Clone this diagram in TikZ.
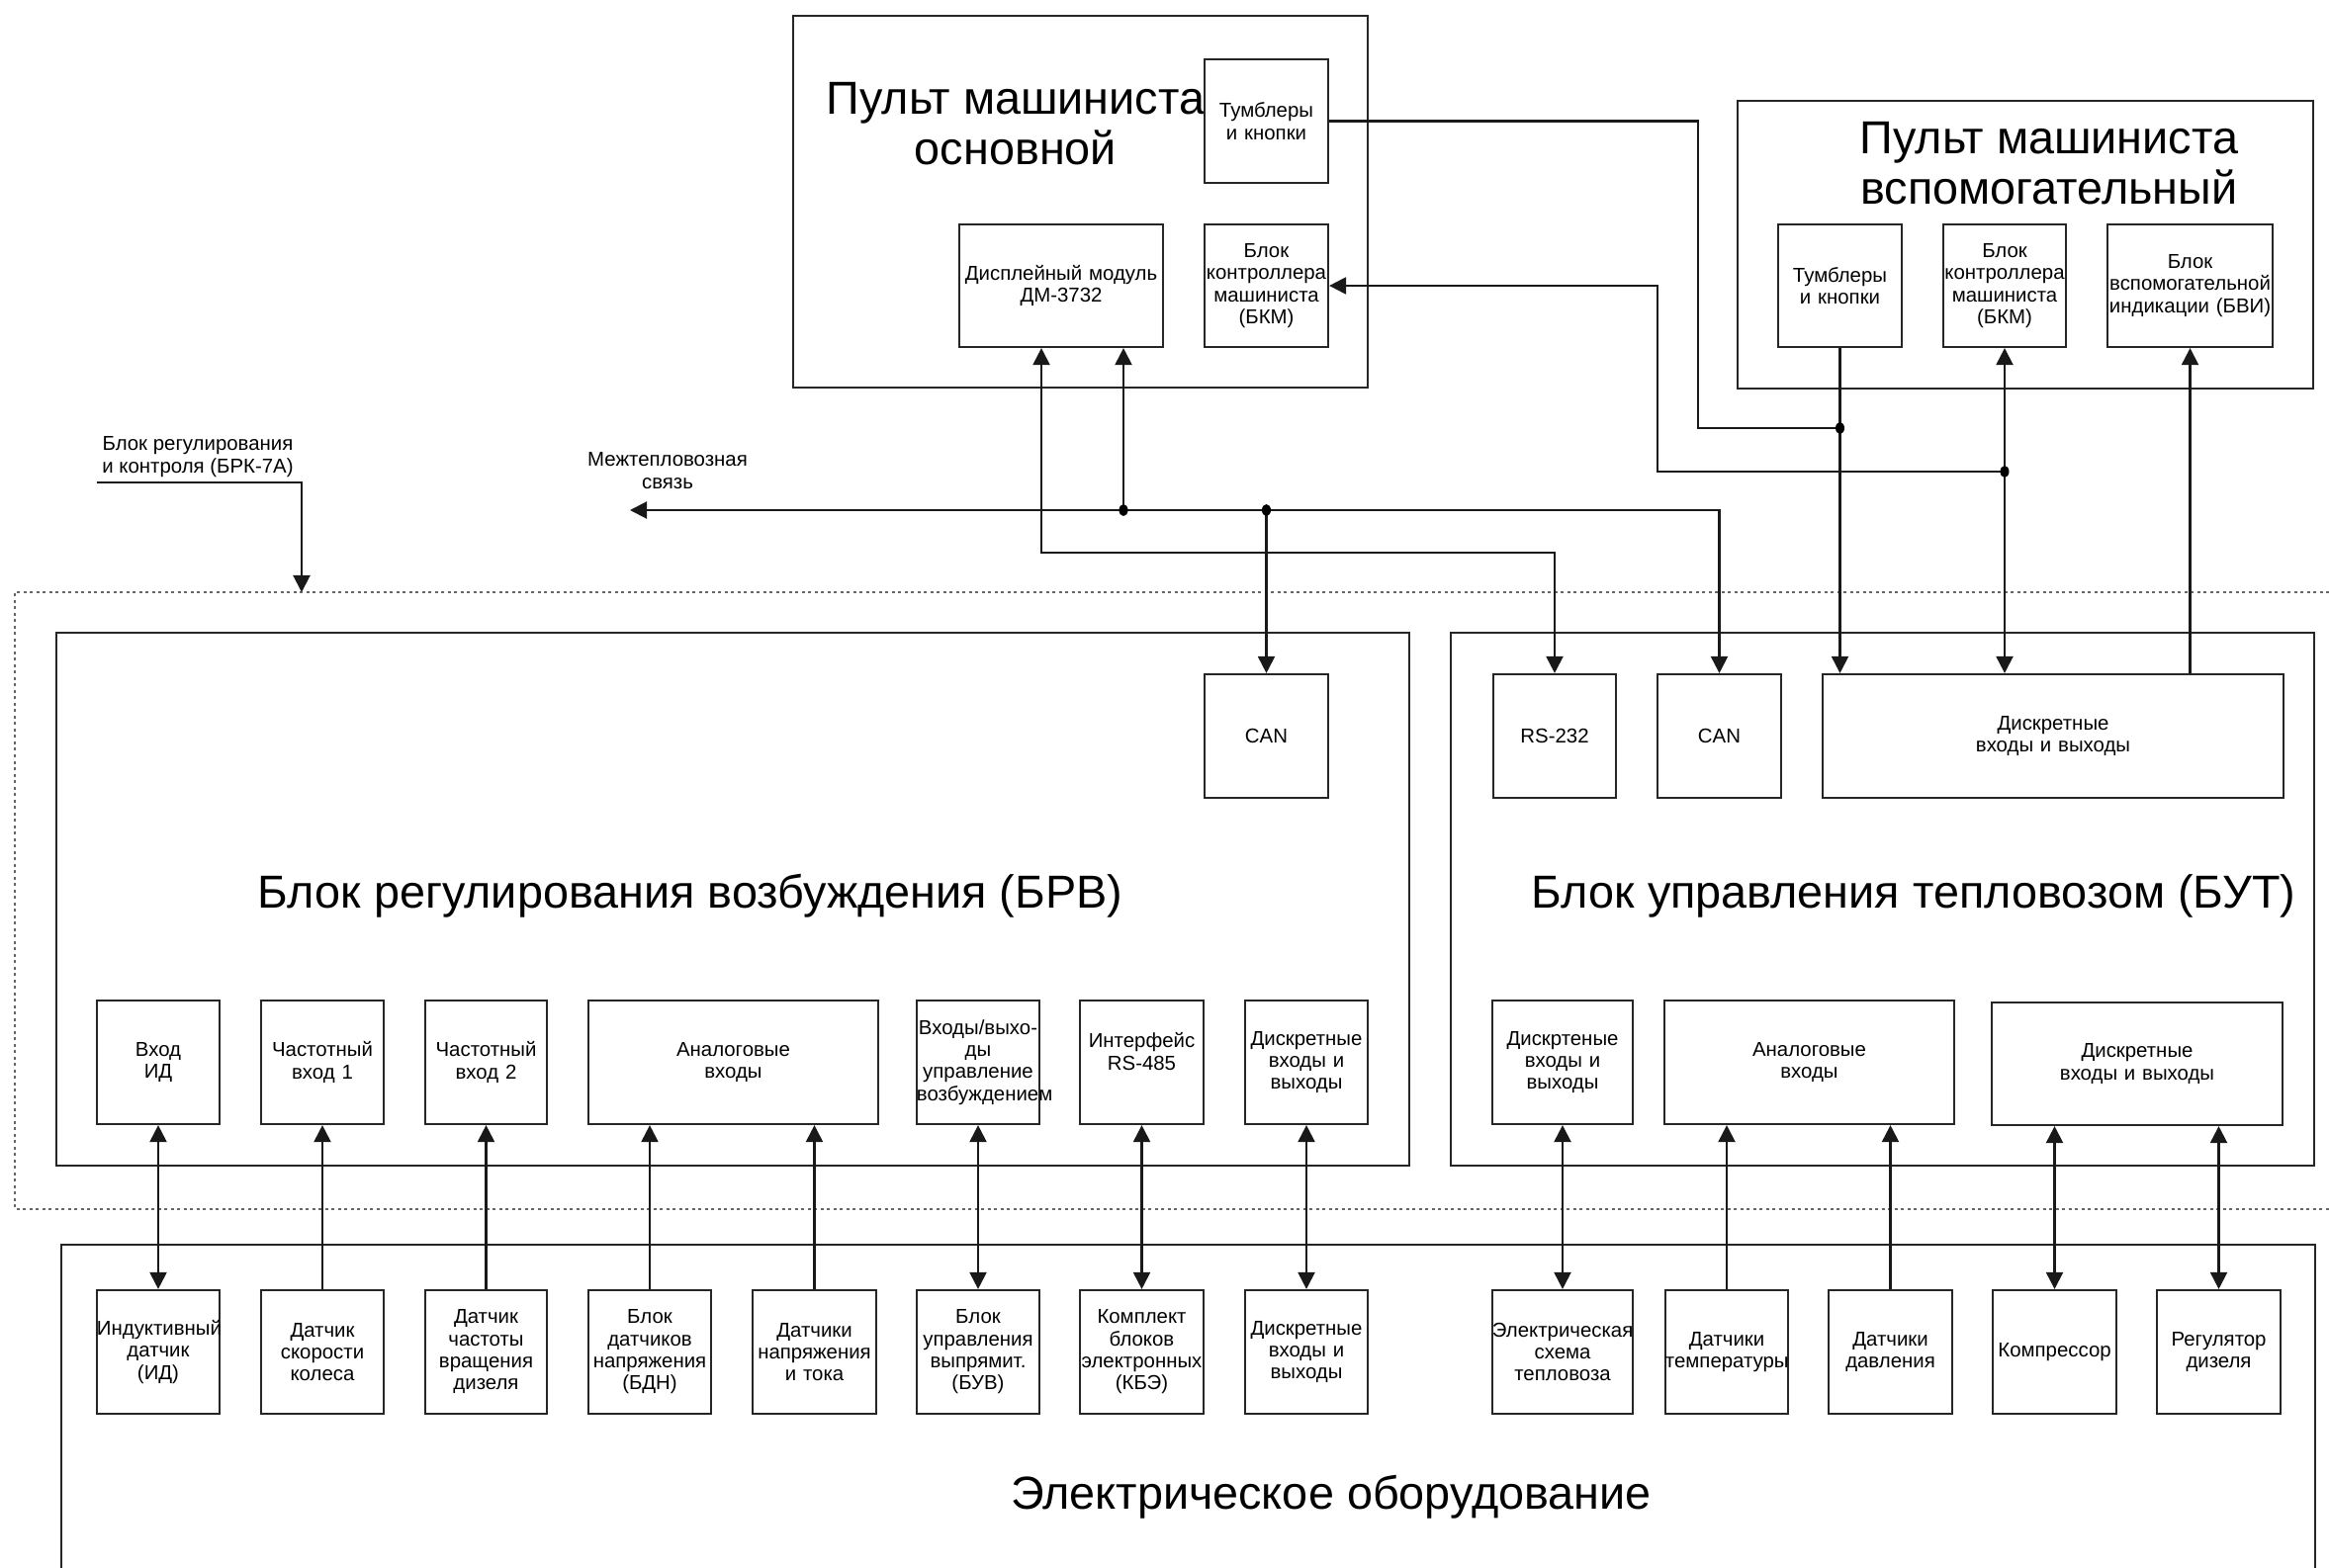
\documentclass[tikz,border=0pt]{standalone}
\usepackage{fontspec}
\setmainfont{Liberation Sans}
\usetikzlibrary{arrows.meta}
\newcommand\fsmall{\fontsize{5.8pt}{6.35pt}\selectfont}
\newcommand\fbig{\fontsize{13.3pt}{14.5pt}\selectfont}
\begin{document}
\begin{tikzpicture}[x=0.01cm,y=-0.01cm,
  line width=0.6pt,
  >={Triangle[length=0.17cm,width=0.17cm]},
  frame/.style={draw=black!85,inner sep=0pt},
  sbox/.style 2 args={draw=black!85,inner sep=0pt,align=center,font=\fsmall,text width=#1,minimum width=#1,minimum height=#2},
  ttl/.style={align=center,font=\fbig,inner sep=0pt},
  lbl/.style={align=center,font=\fsmall,inner sep=0pt},
  conn/.style={draw=black!90},
  dotframe/.style={draw=black!60,line width=0.45pt,dash pattern=on 0.03cm off 0.035cm}
]
\useasboundingbox (0,0) rectangle (2355,1586);

% ---------- main console ----------
\node[frame,minimum width=5.81cm,minimum height=3.76cm] (pm) at (1092.5,204) {};
\node[ttl] (pmt) at (1027,125) {Пульт машиниста\\основной};
\node[sbox={1.25cm}{1.25cm}] (tm) at (1280.5,122.5) {Тумблеры\\и кнопки};
\node[sbox={2.06cm}{1.24cm}] (dm) at (1073,289) {Дисплейный модуль\\ДМ-3732};
\node[sbox={1.25cm}{1.24cm}] (bkm1) at (1280.5,289) {Блок\\контроллера\\машиниста\\(БКМ)};

% ---------- auxiliary console ----------
\node[frame,minimum width=5.82cm,minimum height=2.91cm] (pa) at (2048,247.5) {};
\node[ttl] (pat) at (2072,165) {Пульт машиниста\\вспомогательный};
\node[sbox={1.25cm}{1.24cm}] (ta) at (1860.5,289) {Тумблеры\\и кнопки};
\node[sbox={1.24cm}{1.24cm}] (bkm2) at (2027,289) {Блок\\контроллера\\машиниста\\(БКМ)};
\node[sbox={1.67cm}{1.24cm}] (bvi) at (2214.5,289) {Блок\\вспомогательной\\индикации (БВИ)};

% ---------- dotted frame (БРК-7А) ----------
\draw[dotframe] (2355,599) -- (15,599) -- (15,1223) -- (2355,1223);

% ---------- БРВ ----------
\node[frame,minimum width=13.68cm,minimum height=5.39cm] (brv) at (741,909.5) {};
\node[ttl] (brvt) at (698,906) {Блок регулирования возбуждения (БРВ)};
\node[sbox={1.25cm}{1.25cm}] (can1) at (1280.5,744.5) {CAN};
\node[sbox={1.24cm}{1.25cm}] (vid) at (160,1074.5) {Вход\\ИД};
\node[sbox={1.24cm}{1.25cm}] (ch1) at (326,1074.5) {Частотный\\вход 1};
\node[sbox={1.23cm}{1.25cm}] (ch2) at (491.5,1074.5) {Частотный\\вход 2};
\node[sbox={2.93cm}{1.25cm}] (anl) at (741.5,1074.5) {Аналоговые\\входы};
\node[sbox={1.24cm}{1.25cm}] (vv) at (989,1074.5) {Входы/выхо-\\ды\\управление\\возбуждением};
\node[sbox={1.25cm}{1.25cm}] (rs485) at (1154.5,1074.5) {Интерфейс\\RS-485\\\mbox{}};
\node[sbox={1.24cm}{1.25cm}] (dsk1) at (1321,1074.5) {Дискретные\\входы и\\выходы};

% ---------- БУТ ----------
\node[frame,minimum width=8.73cm,minimum height=5.39cm] (but) at (1903.5,909.5) {};
\node[ttl] (butt) at (1935,906) {Блок управления тепловозом (БУТ)};
\node[sbox={1.24cm}{1.25cm}] (rs232) at (1572,744.5) {RS-232};
\node[sbox={1.25cm}{1.25cm}] (can2) at (1738.5,744.5) {CAN};
\node[sbox={4.66cm}{1.25cm}] (dsk2) at (2076,744.5) {Дискретные\\входы и выходы};
\node[sbox={1.42cm}{1.25cm}] (dd) at (1580,1074.5) {Дискртеные\\входы и\\выходы};
\node[sbox={2.93cm}{1.25cm}] (anl2) at (1829.5,1074.5) {Аналоговые\\входы};
\node[sbox={2.94cm}{1.24cm}] (dsk3) at (2161,1076) {Дискретные\\входы и выходы};

% ---------- electrical equipment ----------
\draw[draw=black!85] (62,1586) -- (62,1259) -- (2341,1259) -- (2341,1586);
\node[ttl] (eot) at (1346,1514) {Электрическое оборудование};
\node[sbox={1.24cm}{1.25cm}] (ind) at (160,1367.5) {Индуктивный\\датчик\\(ИД)};
\node[sbox={1.24cm}{1.25cm}] (dsk) at (326,1367.5) {Датчик\\скорости\\колеса};
\node[sbox={1.23cm}{1.25cm}] (dchv) at (491.5,1367.5) {Датчик\\частоты\\вращения\\дизеля};
\node[sbox={1.24cm}{1.25cm}] (bdn) at (657,1367.5) {Блок\\датчиков\\напряжения\\(БДН)};
\node[sbox={1.25cm}{1.25cm}] (dnt) at (823.5,1367.5) {Датчики\\напряжения\\и тока};
\node[sbox={1.24cm}{1.25cm}] (buv) at (989,1367.5) {Блок\\управления\\выпрямит.\\(БУВ)};
\node[sbox={1.25cm}{1.25cm}] (kbe) at (1154.5,1367.5) {Комплект\\блоков\\электронных\\(КБЭ)};
\node[sbox={1.24cm}{1.25cm}] (dske) at (1321,1367.5) {Дискретные\\входы и\\выходы};
\node[sbox={1.42cm}{1.25cm}] (es) at (1580,1367.5) {Электрическая\\схема\\тепловоза};
\node[sbox={1.24cm}{1.25cm}] (dtm) at (1746,1367.5) {Датчики\\температуры};
\node[sbox={1.25cm}{1.25cm}] (ddv) at (1911.5,1367.5) {Датчики\\давления};
\node[sbox={1.25cm}{1.25cm}] (kmp) at (2077.5,1367.5) {Компрессор};
\node[sbox={1.25cm}{1.25cm}] (reg) at (2243.5,1367.5) {Регулятор\\дизеля};

% ---------- free labels ----------
\node[lbl] (brkt) at (200,462) {Блок регулирования\\и контроля (БРК-7А)};
\node[lbl] (mtt) at (675,476) {Межтепловозная\\связь};

% ---------- coordinates ----------
\coordinate (brk1) at (98,488);
\coordinate (brk2) at (305,599);
\coordinate (mtend) at (637,516);
\coordinate (jA) at (1136,516);
\coordinate (jB) at (can1.north |- 0,516);
\coordinate (jC) at (ta.south |- 0,433);
\coordinate (jD) at (bkm2.south |- 0,477);

% ---------- upper connectors ----------
\draw[conn,->] (brk1) -| (brk2);
\draw[conn,<->] (mtend) -| (can2.north);
\draw[conn,<-] (1136,0 |- dm.south) -- (jA);
\draw[conn,->] (jB) -- (can1.north);
\draw[conn,<->] (1053,0 |- dm.south) -- (1053,559) -| (rs232.north);
\draw[conn] (tm.east) -- (1717,0 |- tm.east) |- (jC);
\draw[conn,->] (ta.south) -- (ta.south |- dsk2.north);
\draw[conn,<->] (bkm2.south) -- (bkm2.south |- dsk2.north);
\draw[conn,->] (jD) -- (1676,0 |- jD) -- (1676,0 |- bkm1.east) -- (bkm1.east);
\draw[conn,->] (bvi.south |- dsk2.north) -- (bvi.south);
\foreach \j in {jA,jB,jC,jD} \fill (\j) ellipse (0.045cm and 0.06cm);

% ---------- lower connectors ----------
\draw[conn,<->] (ind.north) -- (vid.south);
\draw[conn,->] (dsk.north) -- (ch1.south);
\draw[conn,->] (dchv.north) -- (ch2.south);
\draw[conn,->] (bdn.north) -- (bdn.north |- anl.south);
\draw[conn,->] (dnt.north) -- (dnt.north |- anl.south);
\draw[conn,<->] (buv.north) -- (vv.south);
\draw[conn,<->] (kbe.north) -- (rs485.south);
\draw[conn,<->] (dske.north) -- (dsk1.south);
\draw[conn,<->] (es.north) -- (dd.south);
\draw[conn,->] (dtm.north) -- (dtm.north |- anl2.south);
\draw[conn,->] (ddv.north) -- (ddv.north |- anl2.south);
\draw[conn,<->] (kmp.north) -- (kmp.north |- dsk3.south);
\draw[conn,<->] (reg.north) -- (reg.north |- dsk3.south);
\end{tikzpicture}
\end{document}
